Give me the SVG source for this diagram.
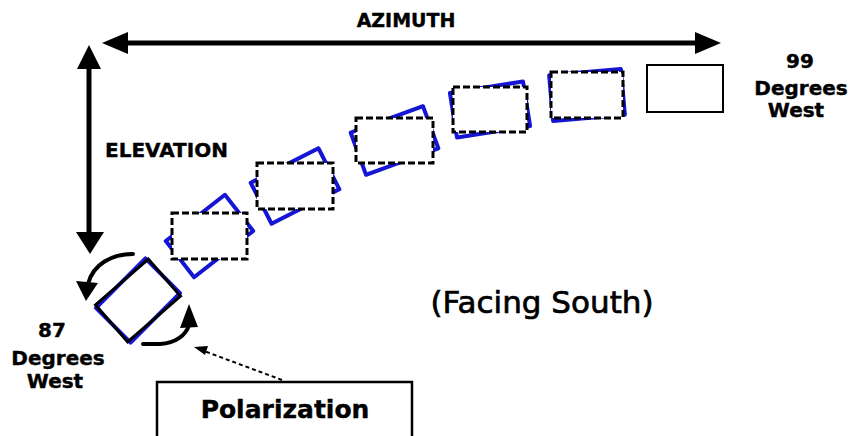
<svg xmlns="http://www.w3.org/2000/svg" width="853" height="436" viewBox="0 0 853 436">
<style>
.lbl{font-family:"DejaVu Sans","Liberation Sans",sans-serif;font-weight:bold;fill:#000;stroke:#000;stroke-width:0.4}
.dash{fill:#fff;stroke:#000;stroke-width:3;stroke-dasharray:7 3}
.blue{fill:none;stroke:#1515d5;stroke-width:4;stroke-linejoin:round}
.thick{fill:none;stroke:#000;stroke-width:5}
.arc{fill:none;stroke:#000;stroke-width:4;stroke-linecap:round}
</style>
<rect width="853" height="436" fill="#fff"/>
<g id="connectors">
  <line x1="126" y1="43" x2="700" y2="43" class="thick" stroke-width="6"/>
  <polygon points="102,43 128,32 128,54" fill="#000"/>
  <polygon points="721,43 695,32 695,54" fill="#000"/>
  <line x1="89" y1="66" x2="89" y2="235" class="thick"/>
  <polygon points="89,45 77,69 101,69" fill="#000"/>
  <polygon points="90,254 76,232 104,232" fill="#000"/>
  <path d="M133,254 C112,254 93,264 88,284" class="arc"/>
  <polygon points="86,301 76,281 98,283" fill="#000"/>
  <path d="M143,344 L160,344 C176,343 186,335 189,325" class="arc"/>
  <polygon points="189,304 180,328 198,327" fill="#000"/>
  <line x1="282" y1="380" x2="204" y2="351" stroke="#000" stroke-width="2" stroke-dasharray="4 3"/>
  <polygon points="194,347 208,346 205,355" fill="#000"/>
</g>
<g id="label-azimuth"><text class="lbl" x="406" y="27" font-size="19" text-anchor="middle">AZIMUTH</text></g>
<g id="label-elevation"><text class="lbl" x="105" y="157" font-size="20">ELEVATION</text></g>
<g id="label-99">
  <text class="lbl" font-size="20" text-anchor="middle"><tspan x="800" y="68">99</tspan><tspan x="801" y="95">Degrees</tspan><tspan x="796" y="117">West</tspan></text>
</g>
<g id="label-87">
  <text class="lbl" font-size="20" text-anchor="middle"><tspan x="52" y="337">87</tspan><tspan x="58" y="365">Degrees</tspan><tspan x="55" y="388">West</tspan></text>
</g>
<g id="label-facing"><text x="542" y="313" font-size="31" text-anchor="middle" font-family="'DejaVu Sans','Liberation Sans',sans-serif" fill="#000" stroke="#000" stroke-width="0.7">(Facing South)</text></g>
<g id="polarization-box">
  <rect x="157" y="382" width="255" height="70" fill="#fff" stroke="#000" stroke-width="2.5"/>
  <text class="lbl" x="285" y="418" font-size="25" text-anchor="middle">Polarization</text>
</g>
<g id="dish-0">
  <rect x="103" y="276" width="70" height="49" class="blue" transform="rotate(-45 138 300.5)"/>
  <rect x="103" y="276" width="70" height="49" fill="none" stroke="#000" stroke-width="3" transform="rotate(-41 138 300.5)"/>
</g>
<g id="dish-1">
  <rect x="172" y="213" width="75" height="46" class="blue" transform="rotate(-38 209.5 236)"/>
  <rect x="172" y="213" width="75" height="46" class="dash"/>
</g>
<g id="dish-2">
  <rect x="257" y="163" width="76" height="46" class="blue" transform="rotate(-27 295 186)"/>
  <rect x="257" y="163" width="76" height="46" class="dash"/>
</g>
<g id="dish-3">
  <rect x="356" y="118" width="77" height="45" class="blue" transform="rotate(-20 394.5 140.5)"/>
  <rect x="356" y="118" width="77" height="45" class="dash"/>
</g>
<g id="dish-4">
  <rect x="453" y="87" width="74" height="45" class="blue" transform="rotate(-9 490 109.5)"/>
  <rect x="453" y="87" width="74" height="45" class="dash"/>
</g>
<g id="dish-5">
  <rect x="551" y="72" width="72" height="46" class="blue" transform="rotate(-5 587 95)"/>
  <rect x="551" y="72" width="72" height="46" class="dash"/>
</g>
<g id="dish-6">
  <rect x="647" y="65" width="76" height="47" fill="none" stroke="#000" stroke-width="2"/>
</g>
</svg>
